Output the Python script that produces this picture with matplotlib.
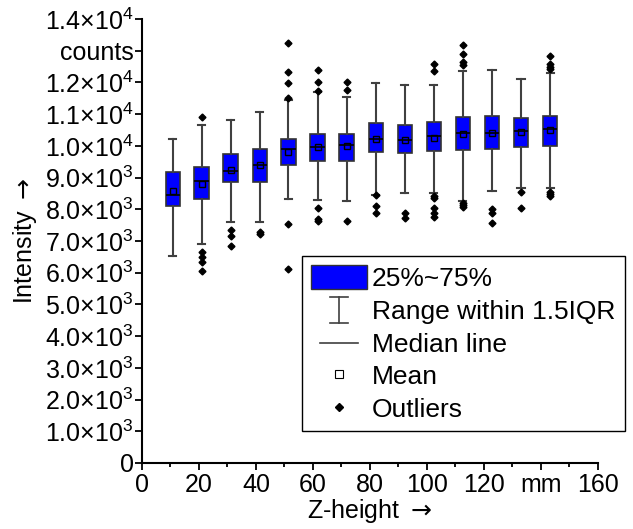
import matplotlib
matplotlib.use("Agg")
import matplotlib.pyplot as plt
from matplotlib.patches import Patch
from matplotlib.lines import Line2D
from matplotlib.legend_handler import HandlerBase
from matplotlib.ticker import MultipleLocator, FuncFormatter

plt.rcParams['font.family'] = ['Liberation Sans', 'DejaVu Sans']
plt.rcParams['mathtext.fontset'] = 'custom'
plt.rcParams['mathtext.rm'] = 'Liberation Sans'
plt.rcParams['mathtext.sf'] = 'DejaVu Sans'

# Box statistics (intensity in counts)
z_pos = [10.8, 20.9, 31.1, 41.3, 51.4, 61.6, 71.8, 82.0, 92.2, 102.4, 112.6, 122.8, 133.0, 143.2]
q1 = [8110, 8330, 8860, 8860, 9390, 9530, 9530, 9820, 9770, 9830, 9860, 9910, 9960, 10010]
q3 = [9170, 9330, 9730, 9900, 10220, 10380, 10390, 10710, 10660, 10740, 10910, 10940, 10870, 10950]
medians = [8450, 8890, 9220, 9410, 9890, 9980, 10020, 10230, 10190, 10300, 10400, 10420, 10460, 10520]
means = [8580, 8800, 9240, 9400, 9810, 9960, 10000, 10220, 10190, 10250, 10390, 10420, 10440, 10500]
whis_lo = [6530, 6900, 7590, 7590, 8320, 8290, 8250, 8460, 8510, 8510, 8260, 8590, 8670, 8680]
whis_hi = [10230, 10660, 10830, 11070, 11450, 11690, 11550, 11970, 11930, 11930, 12360, 12380, 12100, 12290]
outliers = [
    [],
    [10900, 6660, 6510, 6330, 6040],
    [7350, 7150, 6850],
    [7290, 7210],
    [11500, 11970, 12320, 13250, 7540, 6130],
    [11720, 12020, 12390, 8030, 7680, 7620],
    [11770, 12000, 7640],
    [8440, 8100, 7880],
    [7890, 7740],
    [12370, 12580, 8430, 8350, 8030, 7890, 7770],
    [12560, 12650, 12890, 13190, 8190, 8130, 8060],
    [8000, 7870, 7580],
    [8540, 8030],
    [12410, 12500, 12570, 12850, 8560, 8480, 8410],
]

legend_labels = ["25%~75%", "Range within 1.5IQR", "Median line", "Mean", "Outliers"]

stats = []
for i in range(len(z_pos)):
    stats.append(dict(q1=q1[i], q3=q3[i], med=medians[i], mean=means[i],
                      whislo=whis_lo[i], whishi=whis_hi[i], fliers=outliers[i]))

fig = plt.figure(figsize=(6.33, 5.29), dpi=100)
ax = fig.add_axes([0.2243, 0.1248, 0.7204, 0.8392])

edge = "#333333"
ax.bxp(stats, positions=z_pos, widths=5.0, patch_artist=True, showmeans=True,
       boxprops=dict(facecolor="#0000ff", edgecolor=edge, linewidth=1.2),
       whiskerprops=dict(color="#404040", linewidth=1.5),
       capprops=dict(color="#404040", linewidth=1.5),
       medianprops=dict(color="black", linewidth=1.2),
       meanprops=dict(marker="s", markerfacecolor="none", markeredgecolor="black",
                      markersize=5, markeredgewidth=1.0),
       flierprops=dict(marker="D", markerfacecolor="black", markeredgecolor="black",
                       markersize=3.5))

ax.set_xlim(0, 160)
ax.set_ylim(0, 14000)
ax.spines['top'].set_visible(False)
ax.spines['right'].set_visible(False)
ax.spines['left'].set_linewidth(1.5)
ax.spines['bottom'].set_linewidth(1.5)

ax.xaxis.set_major_locator(MultipleLocator(20))
ax.xaxis.set_minor_locator(MultipleLocator(10))
ax.yaxis.set_major_locator(MultipleLocator(1000))


def xfmt(v, pos):
    if abs(v - 140) < 1e-6:
        return "mm"
    return "%d" % v


def yfmt(v, pos):
    if v == 0:
        return "0"
    if abs(v - 13000) < 1e-6:
        return "counts"
    e = 4 if v >= 10000 else 3
    return "%.1f×10$^{%d}$" % (v / 10 ** e, e)


ax.xaxis.set_major_formatter(FuncFormatter(xfmt))
ax.yaxis.set_major_formatter(FuncFormatter(yfmt))
ax.tick_params(which="both", direction="out", width=1.3, labelsize=18)
ax.tick_params(axis="x", which="major", length=5, pad=2.5)
ax.tick_params(axis="y", which="major", length=5, pad=1)
ax.tick_params(which="minor", length=3)

ax.set_xlabel(r"Z-height $\mathsf{\rightarrow}$", fontsize=18, labelpad=-0.5)
ax.set_ylabel(r"Intensity $\mathsf{\rightarrow}$", fontsize=18, labelpad=4)


# legend handles
class WhiskerHandler(HandlerBase):
    def create_artists(self, legend, orig_handle, xdescent, ydescent, width, height, fontsize, trans):
        cx = -xdescent + width / 2
        y0 = -ydescent - 0.05 * height
        y1 = -ydescent + 1.05 * height
        cw = width * 0.16
        lines = [Line2D([cx, cx], [y0, y1]),
                 Line2D([cx - cw, cx + cw], [y0, y0]),
                 Line2D([cx - cw, cx + cw], [y1, y1])]
        for l in lines:
            l.set_color("#404040")
            l.set_linewidth(1.2)
            l.set_transform(trans)
        return lines


class ShortLineHandler(HandlerBase):
    def create_artists(self, legend, orig_handle, xdescent, ydescent, width, height, fontsize, trans):
        cx = -xdescent + width / 2
        cy = -ydescent + height / 2
        l = Line2D([cx - width * 0.35, cx + width * 0.35], [cy, cy], color="#404040", linewidth=1.2)
        l.set_transform(trans)
        return [l]


box_handle = Patch(facecolor="#0000ff", edgecolor=edge, linewidth=1.0)
whisker_handle = Line2D([], [])
median_handle = Line2D([], [], color="#404040")
mean_handle = Line2D([], [], linestyle="none", marker="s", markerfacecolor="white",
                     markeredgecolor="black", markersize=6, markeredgewidth=0.8)
flier_handle = Line2D([], [], linestyle="none", marker="D", markerfacecolor="black",
                      markeredgecolor="black", markersize=4)

leg = ax.legend([box_handle, whisker_handle, median_handle, mean_handle, flier_handle],
                legend_labels, loc="upper left", bbox_to_anchor=(0.351, 0.466),
                borderaxespad=0, fontsize=19, frameon=True, fancybox=False,
                edgecolor="black", framealpha=1, handlelength=2.1, handleheight=1.0,
                labelspacing=0.26, handletextpad=0.2, borderpad=0.35,
                handler_map={whisker_handle: WhiskerHandler(), median_handle: ShortLineHandler()})
leg.get_frame().set_linewidth(1.0)

fig.savefig("out.png", dpi=100)
